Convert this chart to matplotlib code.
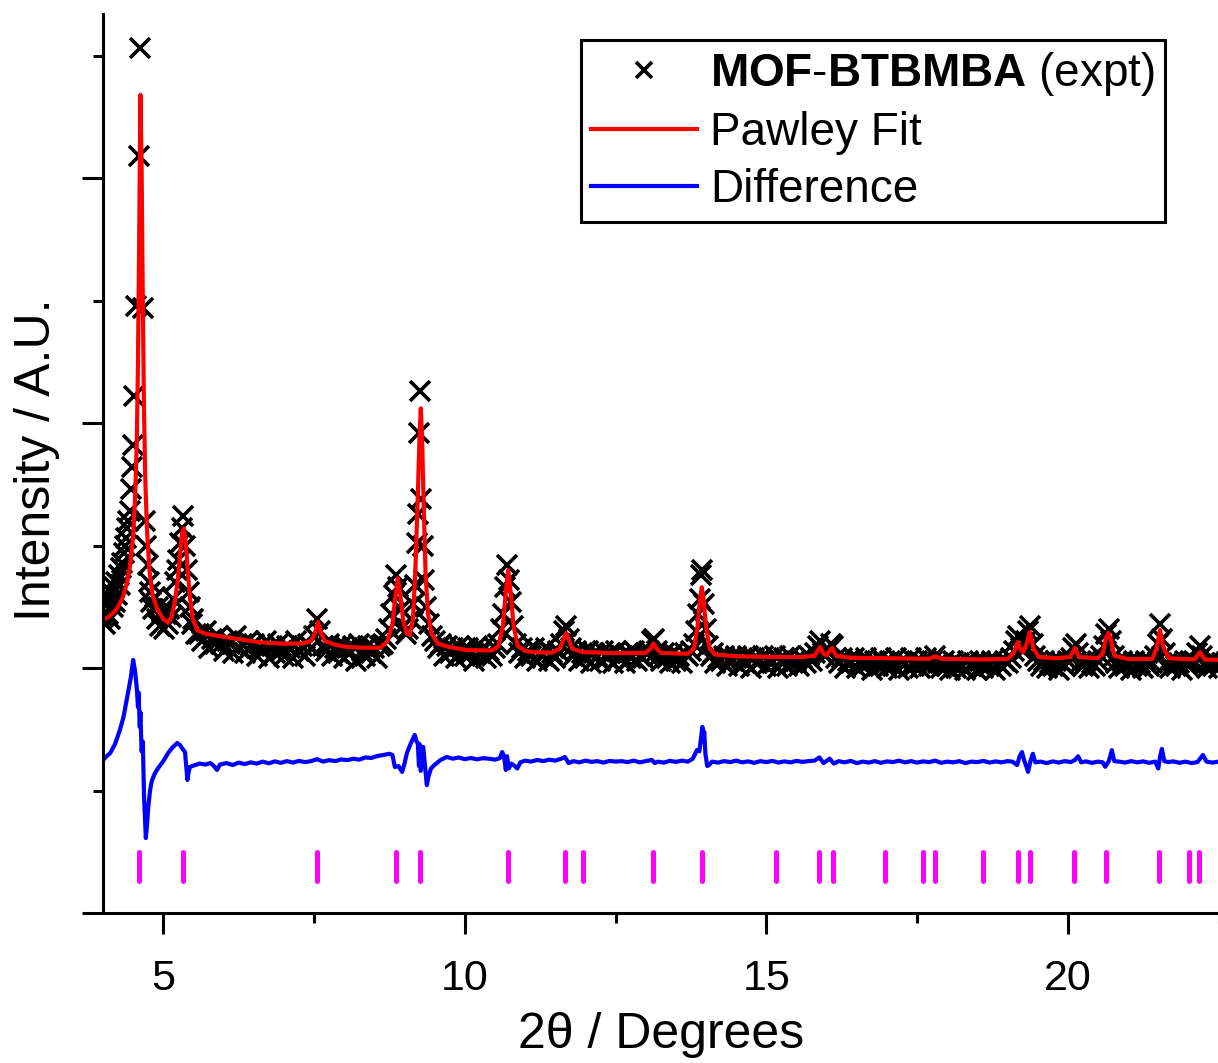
import numpy as np
import matplotlib.pyplot as plt

# --- data (2theta in degrees, intensity in arbitrary units) ---

# observed pattern, low angle region (main reflections)
obs_low = [
    (4.00, 1.21), (4.02, 1.26), (4.04, 1.18), (4.06, 1.27), (4.08, 1.22), (4.10, 1.29),
    (4.12, 1.20), (4.14, 1.31), (4.16, 1.25), (4.18, 1.33), (4.20, 1.27), (4.22, 1.35),
    (4.24, 1.30), (4.26, 1.38), (4.28, 1.34), (4.30, 1.41), (4.32, 1.43), (4.34, 1.47),
    (4.36, 1.50), (4.38, 1.53), (4.40, 1.57), (4.42, 1.60), (4.44, 1.64), (4.46, 1.73),
    (4.48, 1.82), (4.50, 1.91), (4.52, 2.11), (4.55, 2.48), (4.59, 3.09), (4.62, 3.53),
    (4.66, 2.47), (4.70, 1.60), (4.72, 1.50), (4.74, 1.42), (4.76, 1.35), (4.78, 1.31),
    (4.80, 1.27), (4.83, 1.24), (4.86, 1.29), (4.89, 1.20), (4.92, 1.25), (4.95, 1.17),
    (4.98, 1.23), (5.01, 1.16), (5.04, 1.22), (5.07, 1.18), (5.10, 1.24), (5.13, 1.21),
    (5.16, 1.28), (5.19, 1.35), (5.22, 1.40), (5.25, 1.44), (5.28, 1.51), (5.31, 1.57),
    (5.33, 1.62), (5.36, 1.50), (5.39, 1.40), (5.42, 1.31), (5.45, 1.25), (5.48, 1.18),
    (5.50, 1.20), (5.55, 1.14), (5.60, 1.14), (5.65, 1.11), (5.70, 1.15), (5.75, 1.08),
    (5.80, 1.12), (5.85, 1.10), (5.90, 1.13), (5.95, 1.10), (6.00, 1.07), (6.05, 1.11),
    (6.10, 1.10), (6.15, 1.06), (6.20, 1.13), (6.25, 1.08), (6.30, 1.10), (6.35, 1.06),
    (6.40, 1.11), (6.45, 1.09), (6.50, 1.10), (6.55, 1.05), (6.60, 1.08), (6.65, 1.07),
    (6.70, 1.11), (6.75, 1.04), (6.80, 1.09), (6.85, 1.06), (6.90, 1.10), (6.95, 1.07),
    (7.00, 1.05), (7.05, 1.09), (7.10, 1.08), (7.15, 1.04), (7.20, 1.11), (7.25, 1.07),
    (7.30, 1.09), (7.35, 1.05), (7.40, 1.10), (7.45, 1.08), (7.50, 1.13), (7.55, 1.20),
    (7.60, 1.15), (7.65, 1.09), (7.70, 1.07), (7.75, 1.10), (7.80, 1.05), (7.85, 1.08),
    (7.90, 1.06), (7.95, 1.09), (8.00, 1.04), (8.05, 1.08), (8.10, 1.06), (8.15, 1.09),
    (8.20, 1.03), (8.25, 1.10), (8.30, 1.07), (8.35, 1.05), (8.40, 1.09), (8.45, 1.06),
    (8.50, 1.08), (8.55, 1.04), (8.60, 1.09), (8.65, 1.10), (8.70, 1.12), (8.74, 1.16),
    (8.78, 1.22), (8.82, 1.30), (8.86, 1.38), (8.90, 1.33), (8.94, 1.24), (8.98, 1.17),
    (9.02, 1.14), (9.06, 1.16), (9.10, 1.20), (9.14, 1.26), (9.17, 1.34), (9.20, 1.51),
    (9.22, 1.63), (9.24, 1.96), (9.26, 2.13), (9.28, 1.69), (9.30, 1.50), (9.33, 1.36),
    (9.36, 1.25), (9.40, 1.18), (9.45, 1.13), (9.50, 1.11), (9.55, 1.08), (9.60, 1.10),
    (9.65, 1.05), (9.70, 1.09), (9.75, 1.06), (9.80, 1.08), (9.85, 1.04), (9.90, 1.09),
    (9.95, 1.07),
]

# observed pattern, middle region
obs_mid = [
    (10.00, 1.05), (10.05, 1.08), (10.10, 1.06), (10.15, 1.03), (10.20, 1.09), (10.25, 1.06),
    (10.30, 1.08), (10.35, 1.04), (10.40, 1.07), (10.45, 1.05), (10.50, 1.08), (10.55, 1.10),
    (10.60, 1.16), (10.64, 1.22), (10.67, 1.33), (10.70, 1.42), (10.73, 1.36), (10.76, 1.27),
    (10.80, 1.17), (10.85, 1.10), (10.90, 1.06), (10.95, 1.08), (11.00, 1.04), (11.05, 1.07),
    (11.10, 1.05), (11.15, 1.08), (11.20, 1.03), (11.25, 1.06), (11.30, 1.05), (11.35, 1.08),
    (11.40, 1.03), (11.45, 1.06), (11.50, 1.04), (11.55, 1.07), (11.60, 1.10), (11.64, 1.15),
    (11.68, 1.17), (11.72, 1.12), (11.76, 1.08), (11.80, 1.05), (11.85, 1.07), (11.90, 1.03),
    (11.95, 1.06), (12.00, 1.04), (12.05, 1.07), (12.10, 1.02), (12.15, 1.06), (12.20, 1.05),
    (12.25, 1.03), (12.30, 1.07), (12.35, 1.04), (12.40, 1.06), (12.45, 1.02), (12.50, 1.07),
    (12.55, 1.04), (12.60, 1.05), (12.65, 1.02), (12.70, 1.06), (12.75, 1.04), (12.80, 1.07),
    (12.85, 1.03), (12.90, 1.05), (12.95, 1.04), (13.00, 1.06), (13.05, 1.07), (13.10, 1.11),
    (13.14, 1.12), (13.18, 1.07), (13.22, 1.05), (13.25, 1.03), (13.30, 1.06), (13.35, 1.04),
    (13.40, 1.02), (13.45, 1.06), (13.50, 1.03), (13.55, 1.05), (13.60, 1.02), (13.65, 1.06),
    (13.70, 1.05), (13.75, 1.07), (13.80, 1.10), (13.84, 1.15), (13.87, 1.22), (13.90, 1.28),
    (13.92, 1.38), (13.94, 1.40), (13.97, 1.26), (14.00, 1.16), (14.04, 1.09), (14.08, 1.05),
    (14.12, 1.06), (14.15, 1.02), (14.20, 1.04), (14.25, 1.03), (14.30, 1.05), (14.35, 1.01),
    (14.40, 1.04), (14.45, 1.03), (14.50, 1.05), (14.55, 1.01), (14.60, 1.04), (14.65, 1.02),
    (14.70, 1.05), (14.75, 1.00), (14.80, 1.04), (14.85, 1.02), (14.90, 1.03), (14.95, 1.05),
    (15.00, 1.01), (15.05, 1.04), (15.10, 1.02), (15.15, 1.05), (15.20, 1.00), (15.25, 1.03),
    (15.30, 1.04), (15.35, 1.01), (15.40, 1.05), (15.45, 1.02), (15.50, 1.03), (15.55, 1.01),
    (15.60, 1.04), (15.65, 1.02), (15.70, 1.05), (15.75, 1.03),
]

# observed pattern, high angle region
obs_high = [
    (15.80, 1.06), (15.85, 1.09), (15.89, 1.11), (15.94, 1.06), (15.98, 1.05), (16.03, 1.07),
    (16.07, 1.10), (16.11, 1.09), (16.15, 1.04), (16.20, 1.02), (16.25, 1.04), (16.30, 1.00),
    (16.35, 1.03), (16.40, 1.02), (16.45, 1.04), (16.50, 1.00), (16.55, 1.03), (16.60, 1.01),
    (16.65, 1.04), (16.70, 1.02), (16.75, 0.99), (16.80, 1.03), (16.85, 1.01), (16.90, 1.04),
    (16.95, 1.02), (17.00, 1.00), (17.05, 1.03), (17.10, 1.01), (17.15, 1.04), (17.20, 0.99),
    (17.25, 1.03), (17.30, 1.02), (17.35, 1.00), (17.40, 1.04), (17.45, 1.01), (17.50, 1.03),
    (17.55, 1.00), (17.60, 1.02), (17.65, 1.04), (17.70, 1.01), (17.75, 1.03), (17.80, 1.05),
    (17.85, 1.02), (17.90, 1.00), (17.95, 1.03), (18.00, 1.01), (18.05, 0.99), (18.10, 1.03),
    (18.15, 1.00), (18.20, 1.02), (18.25, 1.01), (18.30, 0.99), (18.35, 1.03), (18.40, 1.01),
    (18.45, 1.02), (18.50, 0.99), (18.55, 1.03), (18.60, 1.00), (18.65, 1.02), (18.70, 1.01),
    (18.75, 1.03), (18.80, 0.99), (18.85, 1.02), (18.90, 1.01), (18.95, 1.03), (19.00, 1.02),
    (19.05, 1.04), (19.10, 1.07), (19.14, 1.11), (19.18, 1.13), (19.22, 1.08), (19.26, 1.07),
    (19.30, 1.11), (19.34, 1.15), (19.38, 1.17), (19.42, 1.10), (19.46, 1.05), (19.50, 1.03),
    (19.55, 1.01), (19.60, 1.03), (19.65, 1.00), (19.70, 1.02), (19.75, 1.01), (19.80, 1.03),
    (19.85, 0.99), (19.90, 1.02), (19.95, 1.01), (20.00, 1.03), (20.05, 1.04), (20.09, 1.08),
    (20.13, 1.10), (20.17, 1.06), (20.21, 1.02), (20.25, 1.01), (20.30, 1.03), (20.35, 1.00),
    (20.40, 1.02), (20.45, 1.01), (20.50, 1.03), (20.55, 1.05), (20.60, 1.09), (20.64, 1.14),
    (20.68, 1.16), (20.72, 1.11), (20.76, 1.05), (20.80, 1.02), (20.85, 1.00), (20.90, 1.03),
    (20.95, 1.01), (21.00, 1.02), (21.05, 0.99), (21.10, 1.03), (21.15, 1.01), (21.20, 1.02),
    (21.25, 1.00), (21.30, 1.03), (21.35, 1.01), (21.40, 1.02), (21.45, 1.05), (21.49, 1.10),
    (21.53, 1.18), (21.57, 1.12), (21.61, 1.06), (21.65, 1.02), (21.70, 1.00), (21.75, 1.03),
    (21.80, 1.01), (21.85, 1.02), (21.90, 0.99), (21.95, 1.03), (22.00, 1.01), (22.05, 1.02),
    (22.10, 1.03), (22.15, 1.06), (22.19, 1.09), (22.23, 1.05), (22.27, 1.02), (22.30, 1.00),
    (22.35, 1.03), (22.40, 1.01), (22.45, 1.02), (22.50, 1.00), (22.55, 1.02),
]

# Pawley fit
pawley_fit = [
    (4.00, 1.196), (4.10, 1.21), (4.17, 1.225), (4.25, 1.25), (4.33, 1.29), (4.40, 1.35),
    (4.45, 1.42), (4.50, 1.54), (4.53, 1.68), (4.56, 1.92), (4.58, 2.25), (4.60, 2.75),
    (4.62, 3.34), (4.64, 3.05), (4.66, 2.50), (4.68, 2.05), (4.70, 1.78), (4.73, 1.56),
    (4.77, 1.40), (4.82, 1.30), (4.90, 1.24), (5.00, 1.20), (5.08, 1.185), (5.14, 1.21),
    (5.19, 1.27), (5.24, 1.36), (5.28, 1.47), (5.31, 1.55), (5.34, 1.57), (5.37, 1.52),
    (5.40, 1.42), (5.44, 1.29), (5.49, 1.20), (5.56, 1.155), (5.70, 1.14), (5.82, 1.135),
    (6.20, 1.12), (6.60, 1.105), (6.94, 1.10), (7.30, 1.10), (7.45, 1.11), (7.51, 1.14),
    (7.57, 1.188), (7.62, 1.14), (7.68, 1.11), (7.85, 1.095), (8.05, 1.086), (8.30, 1.083),
    (8.60, 1.083), (8.72, 1.11), (8.80, 1.18), (8.85, 1.30), (8.89, 1.367), (8.93, 1.30),
    (8.98, 1.19), (9.04, 1.14), (9.09, 1.135), (9.14, 1.20), (9.18, 1.40), (9.22, 1.70),
    (9.25, 1.95), (9.27, 2.06), (9.29, 1.95), (9.32, 1.65), (9.35, 1.38), (9.39, 1.22),
    (9.45, 1.14), (9.55, 1.10), (9.75, 1.085), (10.04, 1.073), (10.45, 1.072), (10.56, 1.09),
    (10.63, 1.17), (10.68, 1.31), (10.72, 1.40), (10.76, 1.31), (10.81, 1.17), (10.88, 1.09),
    (11.00, 1.07), (11.13, 1.065), (11.45, 1.063), (11.58, 1.08), (11.64, 1.12), (11.68, 1.143),
    (11.72, 1.12), (11.78, 1.08), (11.95, 1.065), (12.50, 1.061), (13.00, 1.062), (13.08, 1.08),
    (13.13, 1.10), (13.18, 1.08), (13.25, 1.062), (13.70, 1.058), (13.80, 1.08), (13.86, 1.17),
    (13.90, 1.28), (13.93, 1.33), (13.96, 1.28), (14.00, 1.17), (14.06, 1.08), (14.15, 1.055),
    (14.50, 1.048), (15.00, 1.046), (15.56, 1.045), (15.80, 1.05), (15.89, 1.086), (15.96, 1.055),
    (16.00, 1.053), (16.09, 1.082), (16.16, 1.05), (16.40, 1.042), (17.00, 1.04), (17.70, 1.038),
    (17.80, 1.048), (17.90, 1.038), (18.50, 1.035), (19.00, 1.037), (19.10, 1.06), (19.17, 1.106),
    (19.22, 1.075), (19.26, 1.065), (19.32, 1.10), (19.37, 1.147), (19.43, 1.08), (19.52, 1.045),
    (19.80, 1.04), (20.04, 1.045), (20.12, 1.082), (20.19, 1.045), (20.50, 1.04), (20.58, 1.06),
    (20.63, 1.12), (20.67, 1.143), (20.71, 1.12), (20.77, 1.05), (21.00, 1.037), (21.40, 1.037),
    (21.47, 1.08), (21.53, 1.155), (21.59, 1.08), (21.68, 1.04), (22.10, 1.035), (22.19, 1.065),
    (22.27, 1.035), (22.60, 1.033),
]

# difference curve (offset below the pattern)
difference = [
    (4.00, 0.624), (4.06, 0.640), (4.12, 0.653), (4.20, 0.690), (4.28, 0.747), (4.34, 0.800),
    (4.40, 0.880), (4.46, 0.960), (4.50, 1.033), (4.53, 0.990), (4.56, 0.920), (4.58, 0.840),
    (4.59, 0.900), (4.61, 0.760), (4.62, 0.820), (4.64, 0.660), (4.66, 0.700), (4.68, 0.480),
    (4.71, 0.306), (4.73, 0.360), (4.75, 0.430), (4.78, 0.500), (4.81, 0.540), (4.86, 0.570),
    (4.91, 0.590), (5.00, 0.620), (5.08, 0.653), (5.15, 0.675), (5.23, 0.694), (5.28, 0.685),
    (5.31, 0.673), (5.36, 0.657), (5.38, 0.600), (5.40, 0.543), (5.42, 0.575), (5.44, 0.596),
    (5.48, 0.600), (5.53, 0.604), (5.60, 0.610), (5.70, 0.606), (5.78, 0.612), (5.84, 0.600),
    (5.89, 0.584), (5.94, 0.606), (6.05, 0.612), (6.15, 0.604), (6.25, 0.614), (6.35, 0.608),
    (6.45, 0.615), (6.55, 0.610), (6.65, 0.618), (6.75, 0.611), (6.85, 0.619), (6.95, 0.613),
    (7.05, 0.620), (7.15, 0.614), (7.25, 0.621), (7.35, 0.616), (7.45, 0.620), (7.55, 0.628),
    (7.65, 0.618), (7.75, 0.624), (7.85, 0.620), (7.95, 0.627), (8.05, 0.624), (8.15, 0.630),
    (8.25, 0.626), (8.35, 0.635), (8.45, 0.633), (8.55, 0.641), (8.65, 0.645), (8.75, 0.650),
    (8.80, 0.645), (8.84, 0.596), (8.90, 0.600), (8.96, 0.576), (9.00, 0.610), (9.04, 0.653),
    (9.10, 0.690), (9.17, 0.727), (9.20, 0.700), (9.22, 0.694), (9.24, 0.600), (9.25, 0.690),
    (9.27, 0.580), (9.29, 0.660), (9.31, 0.678), (9.34, 0.600), (9.37, 0.522), (9.40, 0.560),
    (9.44, 0.590), (9.50, 0.605), (9.60, 0.625), (9.70, 0.637), (9.80, 0.630), (9.90, 0.635),
    (10.00, 0.628), (10.10, 0.633), (10.20, 0.627), (10.30, 0.632), (10.40, 0.630), (10.50, 0.626),
    (10.58, 0.632), (10.62, 0.657), (10.65, 0.640), (10.68, 0.584), (10.70, 0.640), (10.73, 0.590),
    (10.77, 0.610), (10.83, 0.600), (10.87, 0.590), (10.92, 0.615), (11.00, 0.622), (11.10, 0.618),
    (11.20, 0.625), (11.30, 0.620), (11.40, 0.626), (11.50, 0.622), (11.60, 0.630), (11.66, 0.637),
    (11.72, 0.612), (11.80, 0.620), (11.90, 0.615), (12.00, 0.622), (12.10, 0.617), (12.20, 0.620),
    (12.30, 0.614), (12.40, 0.621), (12.50, 0.618), (12.60, 0.620), (12.70, 0.616), (12.80, 0.622),
    (12.90, 0.615), (13.00, 0.620), (13.10, 0.625), (13.15, 0.612), (13.20, 0.618), (13.30, 0.614),
    (13.40, 0.621), (13.50, 0.617), (13.60, 0.622), (13.70, 0.618), (13.78, 0.630), (13.85, 0.665),
    (13.89, 0.660), (13.92, 0.720), (13.94, 0.760), (13.96, 0.700), (13.97, 0.740), (13.99, 0.650),
    (14.02, 0.600), (14.05, 0.604), (14.10, 0.618), (14.20, 0.614), (14.30, 0.620), (14.40, 0.616),
    (14.50, 0.622), (14.60, 0.615), (14.70, 0.619), (14.80, 0.613), (14.90, 0.620), (15.00, 0.616),
    (15.10, 0.621), (15.20, 0.614), (15.30, 0.619), (15.40, 0.615), (15.50, 0.621), (15.60, 0.617),
    (15.70, 0.620), (15.80, 0.622), (15.88, 0.635), (15.95, 0.612), (16.05, 0.630), (16.12, 0.610),
    (16.20, 0.620), (16.30, 0.615), (16.40, 0.621), (16.50, 0.612), (16.60, 0.618), (16.70, 0.614),
    (16.80, 0.620), (16.90, 0.613), (17.00, 0.619), (17.10, 0.616), (17.20, 0.622), (17.30, 0.615),
    (17.40, 0.620), (17.50, 0.614), (17.60, 0.619), (17.70, 0.616), (17.80, 0.622), (17.90, 0.613),
    (18.00, 0.618), (18.10, 0.615), (18.20, 0.620), (18.30, 0.612), (18.40, 0.618), (18.50, 0.616),
    (18.60, 0.621), (18.70, 0.614), (18.80, 0.619), (18.90, 0.615), (19.00, 0.620), (19.08, 0.618),
    (19.16, 0.604), (19.20, 0.640), (19.24, 0.657), (19.28, 0.620), (19.31, 0.600), (19.34, 0.576),
    (19.38, 0.620), (19.42, 0.650), (19.46, 0.615), (19.55, 0.618), (19.65, 0.612), (19.75, 0.619),
    (19.85, 0.614), (19.95, 0.620), (20.05, 0.616), (20.12, 0.625), (20.17, 0.640), (20.22, 0.615),
    (20.30, 0.619), (20.40, 0.613), (20.50, 0.618), (20.58, 0.615), (20.62, 0.597), (20.68, 0.620),
    (20.73, 0.665), (20.77, 0.620), (20.85, 0.618), (20.95, 0.614), (21.05, 0.620), (21.15, 0.615),
    (21.25, 0.619), (21.35, 0.613), (21.45, 0.618), (21.50, 0.590), (21.53, 0.640), (21.56, 0.670),
    (21.60, 0.620), (21.66, 0.616), (21.75, 0.619), (21.85, 0.613), (21.95, 0.618), (22.05, 0.612),
    (22.15, 0.616), (22.24, 0.645), (22.30, 0.618), (22.40, 0.614), (22.50, 0.618), (22.60, 0.615),
]

# allowed reflection positions (tick marks)
reflections = [4.60, 5.33, 7.55, 8.86, 9.26, 10.72, 11.66, 11.96, 13.12, 13.93, 15.16,
               15.87, 16.10, 16.96, 17.60, 17.80, 18.60, 19.18, 19.37, 20.11, 20.64,
               21.51, 22.01, 22.18]

x_major = [5, 10, 15, 20]
x_minor = [7.5, 12.5, 17.5, 22.5]


plt.rcParams['font.family'] = ['Liberation Sans', 'DejaVu Sans']
plt.rcParams['mathtext.fontset'] = 'custom'
plt.rcParams['mathtext.rm'] = 'Liberation Sans'
plt.rcParams['mathtext.bf'] = 'Liberation Sans:bold'

W, H = 1218, 1063
fig = plt.figure(figsize=(W / 100, H / 100), dpi=100)
ax = fig.add_axes([103 / W, 150 / H, 1121.6 / W, 899 / H])

obs = obs_low + obs_mid + obs_high
ox, oy = zip(*obs)
fx, fy = zip(*pawley_fit)
dx, dy = zip(*difference)

ax.plot(ox, oy, ls='none', marker='x', ms=15, mew=2.6, color='black',
        label=r'$\mathbf{MOF}$-$\mathbf{BTBMBA}$ (expt)')
ax.plot(fx, fy, color='#ff0000', lw=3, label='Pawley Fit')
ax.plot(dx, dy, color='#0000ff', lw=3, label='Difference')
ticks = ax.vlines(reflections, 0.13, 0.25, color='#ff00ff', lw=3.6)
ticks.set_capstyle('round')

ax.set_xlim(4.0, 22.6)
ax.set_ylim(0, 3.67)
ax.set_xticks(x_major)
ax.set_xticks(x_minor, minor=True)
ax.set_yticks([0, 1, 2, 3])
ax.set_yticks([0.5, 1.5, 2.5, 3.5], minor=True)
ax.tick_params(which='major', direction='out', length=15, width=2.2, labelsize=31, pad=18)
ax.tick_params(which='minor', direction='out', length=7.5, width=2.2)
ax.tick_params(axis='y', labelleft=False)
for side in ['top', 'right']:
    ax.spines[side].set_visible(False)
for side in ['left', 'bottom']:
    ax.spines[side].set_linewidth(2.2)

ax.set_xlabel('2θ / Degrees', fontsize=36)
ax.set_ylabel('Intensity / A.U.', fontsize=36)
ax.xaxis.label.set_va('center')
ax.xaxis.set_label_coords((661 - 103) / 1121.6, -(1035 - 913) / 899)
ax.yaxis.label.set_va('center')
ax.yaxis.set_label_coords((37 - 103) / 1121.6, (913 - 460) / 899)

leg = ax.legend(loc='upper left', bbox_to_anchor=(581 / W, 1 - 40 / H),
                bbox_transform=fig.transFigure, fontsize=33, fancybox=False,
                edgecolor='black', framealpha=1, borderpad=0.22, labelspacing=0.28,
                handlelength=2.3, handletextpad=0.3, borderaxespad=0, markerscale=0.8)
leg.get_frame().set_linewidth(2.2)

fig.savefig('out.png', dpi=100)
